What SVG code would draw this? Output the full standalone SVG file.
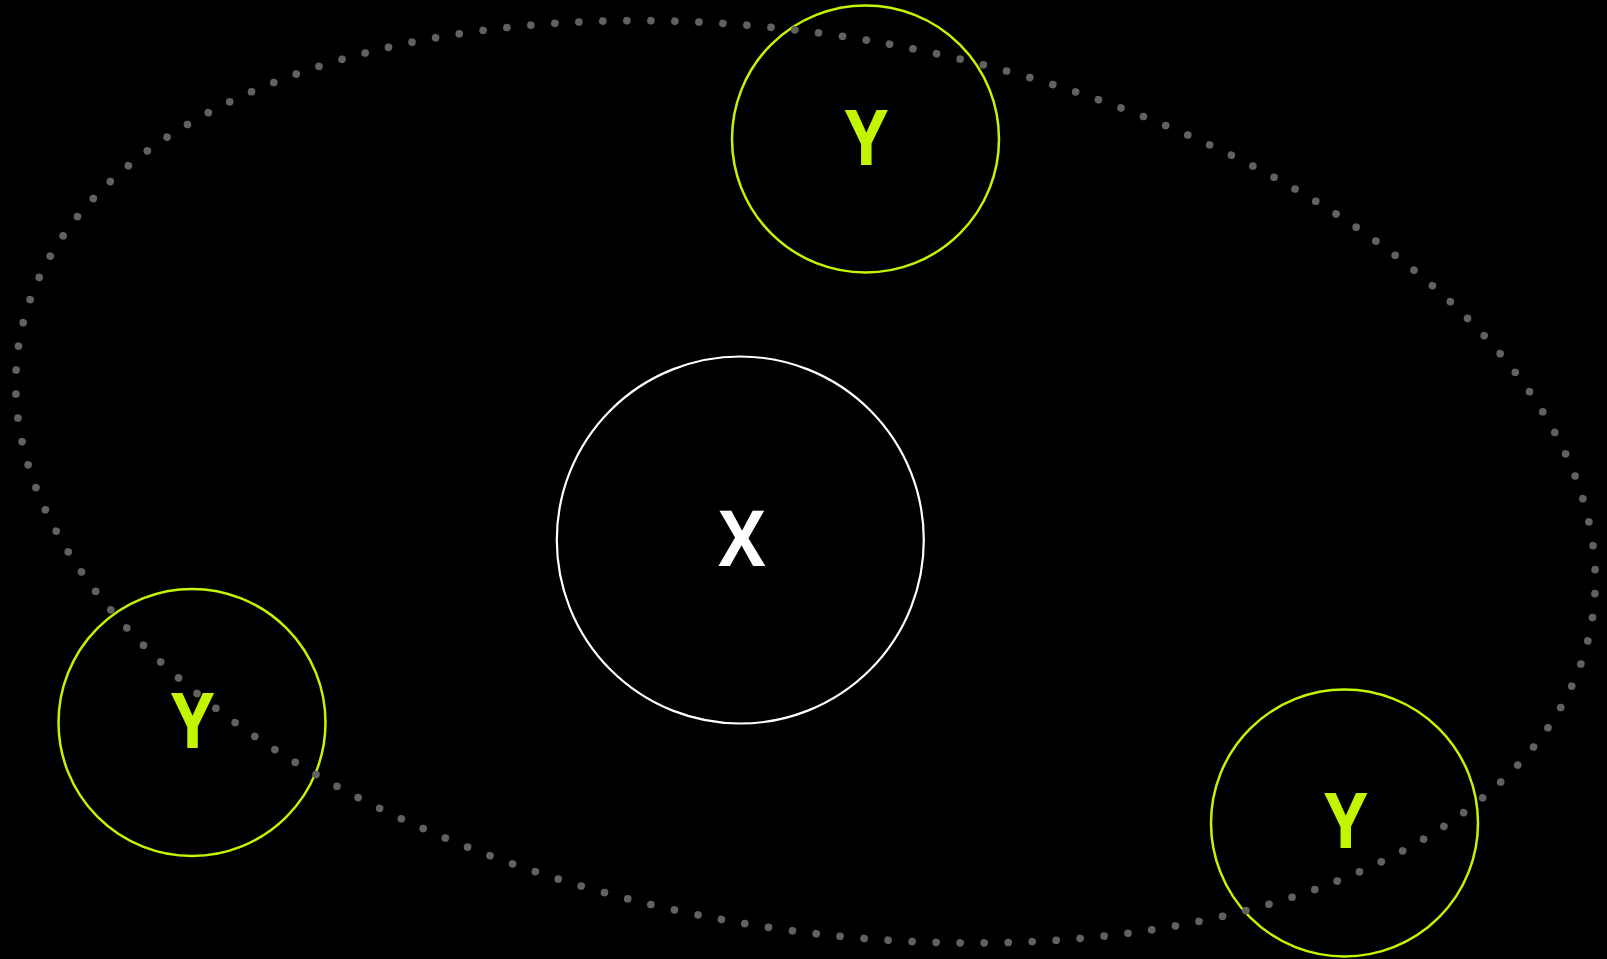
<svg xmlns="http://www.w3.org/2000/svg" width="1607" height="959" viewBox="0 0 1607 959">
  <style>
    .bg { fill: #000000; }
    .ycircle { fill: none; stroke: #c4f500; stroke-width: 2.5; }
    .xcircle { fill: none; stroke: #ffffff; stroke-width: 2.2; }
    .label { font-family: "Open Sans", "Noto Sans", "Liberation Sans", sans-serif; font-weight: 700; font-size: 78px; text-anchor: middle; }
    .ylabel { fill: #c4f500; }
    .xlabel { fill: #ffffff; }
    .orbit { fill: none; stroke: #616161; stroke-width: 7.6; stroke-linecap: round; stroke-dasharray: 0 1; stroke-dashoffset: 0.32; }
  </style>
  <rect class="bg" x="0" y="0" width="1607" height="959"/>
  <g id="node-x">
    <circle class="xcircle" cx="740.3" cy="540" r="183.5"/>
    <text class="label xlabel" transform="translate(742 566) scale(0.9 1)">X</text>
  </g>
  <g id="node-y-top">
    <circle class="ycircle" cx="865.5" cy="139" r="133.5"/>
    <text class="label ylabel" transform="translate(866.3 165) scale(0.885 1)">Y</text>
  </g>
  <g id="node-y-left">
    <circle class="ycircle" cx="192" cy="722.5" r="133.5"/>
    <text class="label ylabel" transform="translate(192.5 747.7) scale(0.885 1)">Y</text>
  </g>
  <g id="node-y-right">
    <circle class="ycircle" cx="1344.5" cy="823" r="133.5"/>
    <text class="label ylabel" transform="translate(1345.8 848.3) scale(0.885 1)">Y</text>
  </g>
  <g id="connectors">
    <ellipse class="orbit" cx="805.5" cy="481.8" rx="798.7" ry="445.6" transform="rotate(10.33 805.5 481.8)" pathLength="166"/>
  </g>
</svg>
